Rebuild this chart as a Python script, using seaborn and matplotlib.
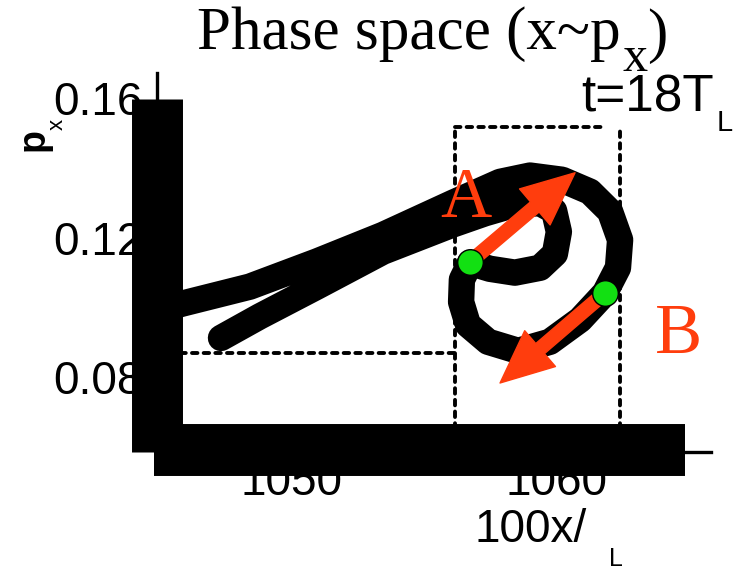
import matplotlib
matplotlib.use("Agg")
import matplotlib.pyplot as plt
import numpy as np
import pandas as pd
import seaborn as sns

# ---- data -------------------------------------------------------------
# electron trajectory in phase space (x in units of lambda_L/100, p_x)
curve_x = [1047.34, 1048.81, 1050.96, 1053.45, 1056.09, 1057.30, 1058.43, 1059.38,
           1059.91, 1060.09, 1059.94, 1059.38, 1058.43, 1057.49, 1056.74, 1056.43,
           1056.40, 1056.66, 1057.42, 1058.55, 1059.75, 1060.89, 1061.83, 1062.32,
           1062.40, 1062.02, 1061.26, 1060.21, 1059.00, 1057.87, 1056.09, 1053.45,
           1050.96, 1048.43, 1045.91, 1043.91]
curve_y = [0.0913, 0.0975, 0.1060, 0.1160, 0.1238, 0.1270, 0.1295, 0.1299,
           0.1277, 0.1217, 0.1154, 0.1114, 0.1100, 0.1111, 0.1128, 0.1080,
           0.1016, 0.0951, 0.0902, 0.0876, 0.0902, 0.0965, 0.1042, 0.1114,
           0.1194, 0.1275, 0.1332, 0.1366, 0.1378, 0.1360, 0.1300, 0.1208,
           0.1132, 0.1060, 0.1012, 0.0971]

point_names = ["A", "B"]
point_x = [1056.74, 1061.83]
point_y = [0.1131, 0.1042]
point_label_x = [1056.58, 1064.60]
point_label_y = [0.1260, 0.0870]
arrow_tip_x = [1060.70, 1057.87]
arrow_tip_y = [0.1386, 0.0784]

# dashed selection frames
box_left, box_right, box_top_end = 1056.17, 1062.40, 1061.83
box_top, box_floor = 0.1518, 0.0870

x_ticks = [1050, 1060]
x_tick_labels = ["1050", "1060"]
y_ticks = [0.08, 0.12, 0.16]
y_tick_labels = ["0.08", "0.12", "0.16"]
x_limits = (1044.925, 1065.83)
y_limits = (0.05864, 0.16717)

# ---- style ------------------------------------------------------------
sns.set_theme(style="white")
plt.rcParams["font.family"] = ["Liberation Sans", "DejaVu Sans"]
for key in ("text.color", "axes.labelcolor", "xtick.color", "ytick.color"):
    plt.rcParams[key] = "black"
SERIF = ["Liberation Serif", "DejaVu Serif"]
ACCENT = "#ff3d0d"
GREEN = "#12e012"

W, H = 734, 568
fig = plt.figure(figsize=(W / 100, H / 100), dpi=100)
ax = fig.add_axes([157 / W, 1 - 452 / H, (711 - 157) / W, (452 - 73) / H])


def fx(px):
    return px / W


def fy(py):
    return 1 - py / H


traj = pd.DataFrame({"x": curve_x, "y": curve_y})
sns.lineplot(data=traj, x="x", y="y", sort=False, estimator=None, color="black",
             linewidth=19, solid_capstyle="round", solid_joinstyle="round",
             ax=ax, zorder=3)

# dashed frames
dash = dict(color="black", lw=2.8, linestyle=(0, (1.4, 1.6)),
            dash_capstyle="round", zorder=2)
ax.plot([box_left, box_left], [y_limits[0], box_top], **dash)
ax.plot([box_left, box_top_end], [box_top, box_top], **dash)
ax.plot([box_right, box_right], [y_limits[0], box_top], **dash)
ax.plot([x_limits[0], box_left], [box_floor, box_floor], **dash)

# direction arrows
for i in range(len(point_names)):
    ax.annotate("", xy=(arrow_tip_x[i], arrow_tip_y[i]),
                xytext=(point_x[i], point_y[i]),
                arrowprops=dict(arrowstyle="simple,head_length=0.95,head_width=0.85,tail_width=0.24",
                                color=ACCENT, shrinkA=0, shrinkB=0, mutation_scale=40),
                zorder=4)

pts = pd.DataFrame({"x": point_x, "y": point_y})
sns.scatterplot(data=pts, x="x", y="y", s=340, color=GREEN, edgecolor="black",
                linewidth=1.0, ax=ax, zorder=6)

for name, lx, ly in zip(point_names, point_label_x, point_label_y):
    ax.text(lx, ly, name, color=ACCENT, family=SERIF, fontsize=51,
            ha="center", va="baseline", zorder=5)

# axes
ax.set_xlim(*x_limits)
ax.set_ylim(*y_limits)
ax.set_xticks(x_ticks, x_tick_labels)
ax.set_yticks(y_ticks, y_tick_labels)
ax.tick_params(axis="both", length=0, labelsize=33, colors="black")
ax.tick_params(axis="x", pad=6.5)
ax.tick_params(axis="y", pad=10.4)
ax.set_xlabel("")
ax.set_ylabel("")
for side in ("top", "right"):
    ax.spines[side].set_visible(False)
for side in ("left", "bottom"):
    ax.spines[side].set_color("black")
    ax.spines[side].set_linewidth(2.4)

# heavy axis bars
ax.plot([0.0009, 0.0009], [0.0, 0.9314], transform=ax.transAxes, color="black",
        lw=36.7, solid_capstyle="butt", clip_on=False, zorder=7)
ax.plot([-0.0054, 0.9531], [0.0053, 0.0053], transform=ax.transAxes, color="black",
        lw=37.4, solid_capstyle="butt", clip_on=False, zorder=7)

# title with lowered index
t1 = fig.text(fx(197), fy(49), "Phase space (x~p", family=SERIF, fontsize=44,
              ha="left", va="baseline", color="black")
t2 = ax.annotate("x", xy=(1, 0), xycoords=t1, xytext=(1, -14),
                 textcoords="offset points", family=SERIF, fontsize=36,
                 ha="left", va="bottom", annotation_clip=False, color="black")
ax.annotate(")", xy=(1, 0), xycoords=t2, xytext=(0, 12.5),
            textcoords="offset points", family=SERIF, fontsize=44,
            ha="left", va="bottom", annotation_clip=False, color="black")

# time stamp
tt = fig.text(fx(581), fy(111), "t=18T", fontsize=37, ha="left", va="baseline",
              color="black")
ax.annotate("L", xy=(1, 0), xycoords=tt, xytext=(2, -11),
            textcoords="offset points", fontsize=21, color="black",
            ha="left", va="bottom", annotation_clip=False)

# x axis label
xl = fig.text(fx(475), fy(542), "100x/", fontsize=33, ha="left", va="baseline",
              color="black")
ax.annotate("L", xy=(1, 0), xycoords=xl, xytext=(16, -13.5),
            textcoords="offset points", fontsize=18, color="black",
            ha="left", va="bottom", annotation_clip=False)

# y axis label
fig.text(fx(34), fy(140), "p", fontsize=27, fontweight="bold", rotation=90,
         ha="center", va="center", color="black")
fig.text(fx(57), fy(124), "x", fontsize=16, rotation=90, ha="center", va="center",
         color="black")

fig.savefig("out.png", dpi=100)
